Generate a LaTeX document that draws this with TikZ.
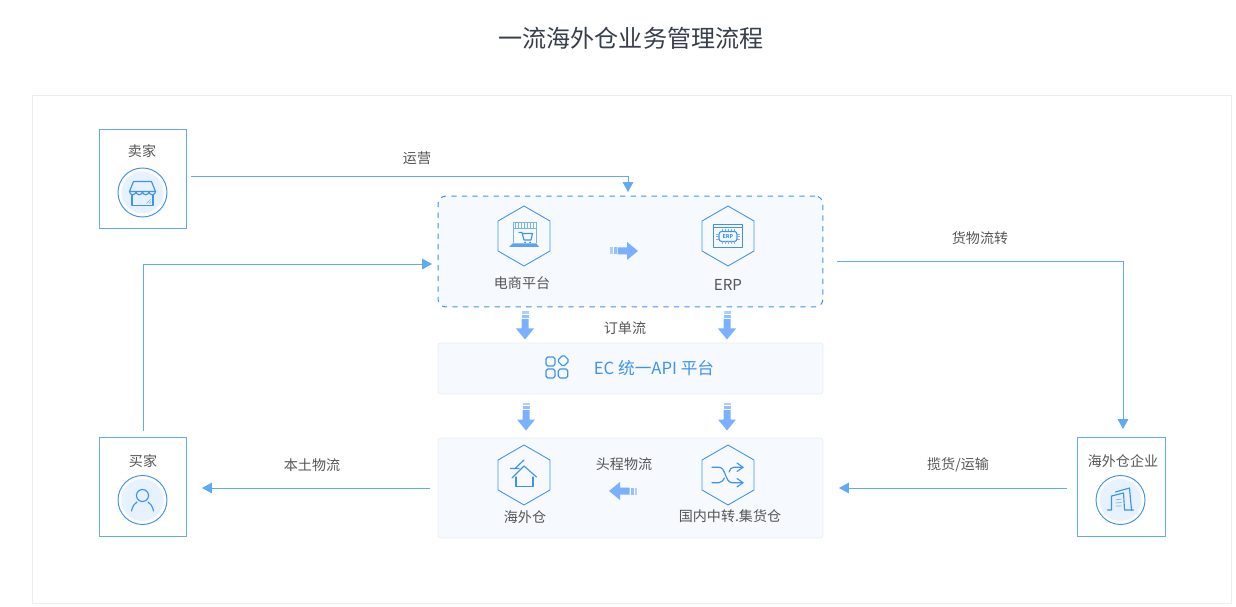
\documentclass[tikz,border=0pt]{standalone}
\usepackage{xcolor}
\usepackage{fontspec}
\usepackage{tikz}
\usetikzlibrary{shapes.geometric, arrows.meta, positioning, calc}
\setmainfont{Noto Sans CJK SC}
\definecolor{myblue}{RGB}{94,170,245}
\definecolor{myicon}{RGB}{64,146,240}
\definecolor{myarrow}{RGB}{122,176,255}
\definecolor{mytext}{RGB}{85,85,85}
\definecolor{mytitle}{RGB}{55,62,75}
\definecolor{myframe}{RGB}{232,238,244}
\definecolor{hdrblue}{RGB}{246,250,255}
\definecolor{hdrcircle}{RGB}{230,242,255}
\tikzset{
  outerframe/.style={rectangle, draw=myframe, line width=0.5pt,
    minimum width=24cm, minimum height=10.16cm},
  actorbox/.style={rectangle, draw=myblue, line width=0.57pt,
    minimum width=1.76cm, minimum height=2cm},
  dashpanel/.style={rectangle, draw=myicon, fill=hdrblue, dashed,
    minimum width=7.7cm, minimum height=2.22cm,
    rounded corners=4.5pt, line width=0.57pt},
  panel/.style={rectangle, draw=myframe, fill=hdrblue,
    minimum width=7.7cm, rounded corners=1.5pt, line width=0.45pt},
  hexnode/.style={regular polygon, regular polygon sides=6,
    shape border rotate=30, draw=myicon, minimum size=1.2cm,
    inner sep=0pt, line width=0.5pt},
  label/.style={font=\fontsize{8}{10}\selectfont, color=mytext, inner sep=0pt},
  arrow/.style={-{Stealth[length=5.6pt, width=6pt, inset=0pt]}, color=myblue, line width=0.45pt},
  iconline/.style={draw=myicon, line width=0.65pt, line cap=round, line join=round},
  thinline/.style={draw=myicon!70, line width=0.4pt},
  pics/fatarrow/.style={code={
    \fill[myarrow!60] (-14,-3.5) rectangle (-11.5,3.5);
    \fill[myarrow!80] (-10.5,-3.5) rectangle (-7.5,3.5);
    \fill[myarrow] (-6.5,-3.5) -- (3,-3.5) -- (3,-9) -- (14,0) -- (3,9) -- (3,3.5) -- (-6.5,3.5) -- cycle;
  }},
  pics/badge/.style={code={
    \fill[hdrcircle] (0,0) circle (21);
    \draw[myicon, line width=0.55pt] (0,0) circle (24.5);
  }},
  pics/storeicon/.style={code={
    \draw[iconline] (-9,-11) -- (9,-11) -- (13,-1) -- (-13,-1) -- cycle;
    \draw[iconline] (-13,-1) arc (180:0:3.25) arc (180:0:3.25) arc (180:0:3.25) arc (180:0:3.25);
    \draw[iconline] (-10.5,2.5) -- (-10.5,13) -- (10.5,13) -- (10.5,2.5);
    \draw[thinline] (4,11) -- (8,7) (6.5,11) -- (8.5,9);
  }},
  pics/personicon/.style={code={
    \draw[iconline] (0,-4.5) circle (6);
    \draw[iconline] (-11,11) .. controls (-10,6) and (-8,3.5) .. (-5.5,2);
    \draw[iconline] (11,11) .. controls (10,6) and (8,3.5) .. (5.5,2);
  }},
  pics/buildingicon/.style={code={
    \draw[iconline] (-13,10) -- (-9,10) -- (-9,-4) -- (3,-7) -- (4,10) -- (13,10);
    \draw[iconline] (-5,-8) -- (9,-12) -- (11,10);
    \draw[thinline] (-5,0) -- (1,-1) (-5,3) -- (1,2.5) (-5,6) -- (1,6);
  }},
  pics/shopicon/.style={code={
    \draw[thinline] (-11,-13.5) rectangle (12,-8);
    \foreach \i in {-9,-6,...,10} {\draw[thinline] (\i,-13.5) -- (\i,-8);}
    \draw[thinline] (-11,-8) -- (-11,7) (12,-8) -- (12,7);
    \draw[iconline] (-5,-3.5) -- (-2,-3.5) -- (0,4) -- (7,4) -- (8.5,-2.5) -- (-1.5,-2.5);
    \fill[myicon] (1,6.5) circle (1) (6,6.5) circle (1);
    \fill[myicon!85] (-11.5,7.5) -- (12.5,7.5) -- (15,11) -- (-15,11) -- cycle;
  }},
  pics/chipicon/.style={code={
    \draw[iconline] (-14.7,-11.7) rectangle (14.7,11.7);
    \draw[iconline] (-14.7,-8.3) -- (14.7,-8.3);
    \draw[iconline, rounded corners=1.5pt] (-9,-4.5) rectangle (9,5.5);
    \foreach \i in {-6,-3,...,6} {\draw[thinline] (\i,-7) -- (\i,-4.5) (\i,5.5) -- (\i,8);}
    \foreach \j in {-2,0.5,3} {\draw[thinline] (-12,\j) -- (-9,\j) (9,\j) -- (12,\j);}
    \node[font=\fontsize{3}{3}\selectfont\bfseries, color=myicon, inner sep=0pt] (chiptext) at (0,0.5) {ERP};
  }},
  pics/appsicon/.style={code={
    \draw[iconline, rounded corners=1pt] (-9,-9) rectangle (0,0);
    \draw[iconline, rounded corners=1pt] (8.3,-11.3) -- (14.3,-5.3) -- (8.3,0.7) -- (2.3,-5.3) -- cycle;
    \draw[iconline, rounded corners=1pt] (-9,3) rectangle (0,12);
    \draw[iconline, rounded corners=1pt] (3.3,3) rectangle (12.7,12);
  }},
  pics/houseicon/.style={code={
    \draw[iconline] (-12,3) -- (0,-9) -- (12.5,2);
    \draw[iconline] (-8,2) -- (-8,11.5) -- (9,11.5) -- (9,2);
    \draw[iconline] (-13.5,-6.5) -- (-5,-6.5) (-9,-6.5) -- (0,-15);
  }},
  pics/shuffleicon/.style={code={
    \draw[iconline] (-16,-7.7) -- (-9,-7.7) .. controls (-2,-7.7) and (-3,7.7) .. (4,7.7) -- (15,7.7);
    \draw[iconline] (-16,7.7) -- (-9,7.7) .. controls (-6,7.7) and (-5,5) .. (-3.5,3);
    \draw[iconline] (1,-3) .. controls (2,-6) and (3,-7.7) .. (6,-7.7) -- (15,-7.7);
    \draw[iconline] (9,-12) -- (15,-7.7) -- (9,-3.5) (9,3.5) -- (15,7.7) -- (9,12);
  }}
}
\begin{document}
\begin{tikzpicture}[x=0.02cm, y=-0.02cm]
  \useasboundingbox (0,0) rectangle (1236,607);

  % Title and outer frame
  \node[font=\fontsize{13.7}{16}\selectfont, color=mytitle, inner sep=0pt] (title) at (631,38) {一流海外仓业务管理流程};
  \node[outerframe] (frame) at (632,349) {};

  % Three panels in the middle
  \node[dashpanel] (shoppanel) at (630.5,251.5) {};
  \node[panel, minimum height=1.02cm] (apipanel) at (630.5,368.5) {};
  \node[panel, minimum height=2cm] (storepanel) at (630.5,488) {};

  % Seller, buyer and warehouse company
  \node[actorbox] (seller) at (143,179) {};
  \node[label] (sellertext) at (142,151) {卖家};
  \pic at (142.5,192.5) {badge};
  \pic at (142.5,192.5) {storeicon};

  \node[actorbox] (buyer) at (143,487) {};
  \node[label] (buyertext) at (143,461) {买家};
  \pic at (142.5,500) {badge};
  \pic at (142.5,500) {personicon};

  \node[actorbox] (company) at (1121,487) {};
  \node[label] (companytext) at (1123,461) {海外仓企业};
  \pic at (1120.5,500) {badge};
  \pic at (1120.5,500) {buildingicon};

  % Hexagons with their icons
  \node[hexnode] (shop) at (524,236) {};
  \pic at (524,236) {shopicon};
  \node[label] (shoptext) at (522,283) {电商平台};

  \node[hexnode] (erp) at (728,236) {};
  \pic at (728,236) {chipicon};
  \node[label, font=\fontsize{8.6}{10}\selectfont] (erptext) at (728,285) {ERP};

  \node[hexnode] (oversea) at (524,475) {};
  \pic at (524,475) {houseicon};
  \node[label] (overseatext) at (525,517) {海外仓};

  \node[hexnode] (transit) at (728,475) {};
  \pic at (728,475) {shuffleicon};
  \node[label] (transittext) at (730,516) {国内中转.集货仓};

  % API platform line
  \pic at (555,366) {appsicon};
  \node[label, font=\fontsize{9.5}{11}\selectfont, color=myicon] (apitext) at (654,368) {EC 统一API 平台};

  % Fat arrows
  \pic at (624,251) {fatarrow};
  \pic[rotate=-90] at (525,325.5) {fatarrow};
  \pic[rotate=-90] at (727,325.5) {fatarrow};
  \pic[rotate=-90] at (526,416.5) {fatarrow};
  \pic[rotate=-90] at (727,416.5) {fatarrow};
  \pic[rotate=180] at (623,491) {fatarrow};

  % Free ends of the connectors
  \coordinate (sellerout) at (191,176);
  \coordinate (shopin) at (628,192);
  \coordinate (buyerout) at (143,431);
  \coordinate (shopleft) at (432,264);
  \coordinate (shopout) at (837,261);
  \coordinate (companyin) at (1123,429);
  \coordinate (storeout) at (430,488);
  \coordinate (buyerin) at (202,488);
  \coordinate (companyout) at (1067,488);
  \coordinate (storein) at (839,488);

  % Connectors
  \draw[arrow] (sellerout) -| (shopin);
  \draw[arrow] (buyerout) |- (shopleft);
  \draw[arrow] (shopout) -| (companyin);
  \draw[arrow] (storeout) -- (buyerin);
  \draw[arrow] (companyout) -- (storein);

  % Labels on the flows
  \node[label] (opstext) at (417,158) {运营};
  \node[label] (goodstext) at (980,238) {货物流转};
  \node[label] (ordertext) at (625,328) {订单流};
  \node[label] (localtext) at (312,465) {本土物流};
  \node[label] (pickuptext) at (958,465) {揽货/运输};
  \node[label] (firsttext) at (624,464) {头程物流};
\end{tikzpicture}
\end{document}
